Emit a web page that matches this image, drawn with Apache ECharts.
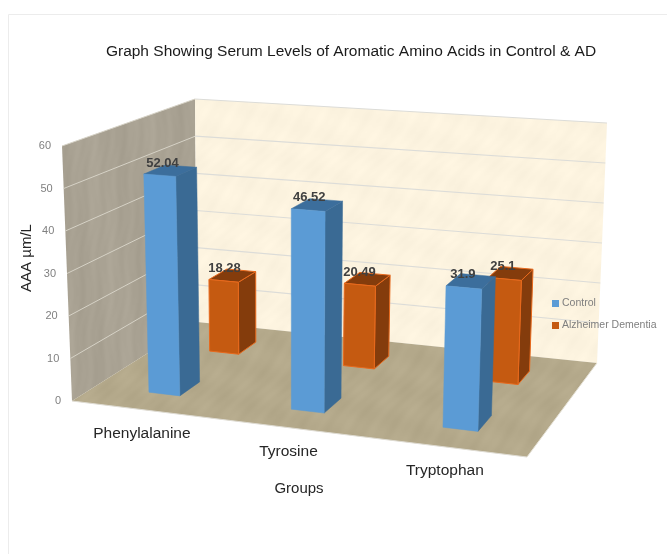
<!DOCTYPE html>
<html>
<head>
<meta charset="utf-8">
<style>
html,body{margin:0;padding:0;background:#fff}
#main{width:667px;height:554px}
</style>
<script src="https://cdn.jsdelivr.net/npm/echarts@6/dist/echarts.min.js"></script>
</head>
<body>
<div id="main"></div>
<script>
var categories = ['Phenylalanine', 'Tyrosine', 'Tryptophan'];
var controlValues = [52.04, 46.52, 31.9];
var dementiaValues = [18.28, 20.49, 25.1];
var tickLabels = [0, 10, 20, 30, 40, 50, 60];

var FONT = '"Liberation Sans", Arial, sans-serif';

// corners of the 3d box on screen: front-left, front-right, back-right, back-left
var floorQuad = [[72, 401], [527, 457], [597, 363], [197, 322]];
var topQuad = [[62, 146], [536, 179], [607, 123], [195, 99]];

// unit square -> quad
function makeHomography(q) {
    var dx1 = q[1][0] - q[2][0], dx2 = q[3][0] - q[2][0], sx = q[0][0] - q[1][0] + q[2][0] - q[3][0];
    var dy1 = q[1][1] - q[2][1], dy2 = q[3][1] - q[2][1], sy = q[0][1] - q[1][1] + q[2][1] - q[3][1];
    var den = dx1 * dy2 - dx2 * dy1;
    var g = (sx * dy2 - dx2 * sy) / den;
    var h = (dx1 * sy - sx * dy1) / den;
    var a = q[1][0] - q[0][0] + g * q[1][0], b = q[3][0] - q[0][0] + h * q[3][0], c = q[0][0];
    var d = q[1][1] - q[0][1] + g * q[1][1], e = q[3][1] - q[0][1] + h * q[3][1], f = q[0][1];
    return function (u, v) {
        var w = g * u + h * v + 1;
        return [(a * u + b * v + c) / w, (d * u + e * v + f) / w];
    };
}
var floorH = makeHomography(floorQuad);
var topH = makeHomography(topQuad);

// u along the categories, v into the depth, t share of the value axis (all 0..1)
function project(u, v, t) {
    var p0 = floorH(u, v), p1 = topH(u, v);
    return [p0[0] + (p1[0] - p0[0]) * t, p0[1] + (p1[1] - p0[1]) * t];
}

// the hidden grid gives the scales, the result is pushed through project()
function toUnit(api, params, cat, val) {
    var cs = params.coordSys;
    var p = api.coord([cat, val]);
    return [(p[0] - cs.x) / cs.width, 1 - (p[1] - cs.y) / cs.height];
}

// soft paper-like texture for the walls, plain sines so it is the same every run
function makeTexture(rgb, amp, fx, fy) {
    var size = 700;
    var c = document.createElement('canvas');
    c.width = c.height = size;
    var ctx = c.getContext('2d');
    var img = ctx.createImageData(size, size);
    for (var y = 0; y < size; y++) {
        for (var x = 0; x < size; x++) {
            var n = Math.sin((x * fx + y * fy * 0.4) * 0.21) + Math.sin((x * fx * 0.37 - y * fy) * 0.17 + 1.3)
                + 0.6 * Math.sin((x * fx * 0.9 + y * fy * 0.8) * 0.53 + Math.sin(y * 0.08) * 2);
            var i = (y * size + x) * 4;
            img.data[i] = rgb[0] + n * amp;
            img.data[i + 1] = rgb[1] + n * amp;
            img.data[i + 2] = rgb[2] + n * amp;
            img.data[i + 3] = 255;
        }
    }
    ctx.putImageData(img, 0, 0);
    return { image: c, repeat: 'repeat' };
}
var leftTexture = makeTexture([169, 162, 147], 2, 1.6, 0.1);
var backTexture = makeTexture([252, 243, 223], 1.2, 1, 1);
var floorTexture = makeTexture([180, 169, 139], 1.8, 1, 1);

function poly(points, fill, stroke) {
    return {
        type: 'polygon',
        shape: { points: points },
        style: { fill: fill, stroke: stroke || (typeof fill === 'string' ? fill : null), lineWidth: stroke ? 1 : 0.5 }
    };
}
function line(a, b, color, w) {
    return {
        type: 'line',
        shape: { x1: a[0], y1: a[1], x2: b[0], y2: b[1] },
        style: { stroke: color, lineWidth: w }
    };
}
function label(text, p, font, color, align) {
    return {
        type: 'text',
        z2: 20,
        style: { text: text, x: p[0], y: p[1], font: font, fill: color, align: align || 'center', verticalAlign: 'middle' }
    };
}

function renderWalls(params, api) {
    var kids = [];
    kids.push(poly([project(0, 0, 0), project(0, 1, 0), project(0, 1, 1), project(0, 0, 1)], leftTexture));
    kids.push(poly([project(0, 1, 0), project(1, 1, 0), project(1, 1, 1), project(0, 1, 1)], backTexture));
    kids.push(poly([project(0, 0, 0), project(1, 0, 0), project(1, 1, 0), project(0, 1, 0)], floorTexture));
    tickLabels.forEach(function (tick) {
        var t = toUnit(api, params, 0, tick)[1];
        if (tick > 0) {
            kids.push(line(project(0, 0, t), project(0, 1, t), '#d6d2c6', 1));
            kids.push(line(project(0, 1, t), project(1, 1, t), '#dcdcd8', 1.2));
        }
        var a = project(0, 0, t);
        kids.push(label(String(tick), [a[0] - 11, a[1]], '11px ' + FONT, '#808080', 'right'));
    });
    kids.push(line(project(0, 0, 0), project(1, 0, 0), '#dedbd2', 1.2));
    kids.push(line(project(1, 0, 0), project(1, 1, 0), '#e6e2d6', 1));
    categories.forEach(function (name, i) {
        var u = toUnit(api, params, i, 0)[0];
        var p = project(u, 0, 0);
        kids.push(label(name, [p[0], p[1] + 24], '15.5px ' + FONT, '#262626'));
    });
    return { type: 'group', children: kids };
}

// v0,v1 = depth slot of the series
function barRenderer(v0, v1, colors) {
    return function (params, api) {
        var cat = api.value(0), val = api.value(1);
        var base = toUnit(api, params, cat, 0);
        var t = toUnit(api, params, cat, val)[1];
        var cs = params.coordSys;
        var halfW = api.size([1, 0])[0] * 0.111 / cs.width;
        var u0 = base[0] - halfW, u1 = base[0] + halfW;
        var e = colors.edge;
        var kids = [
            poly([project(u1, v0, 0), project(u1, v1, 0), project(u1, v1, t), project(u1, v0, t)], colors.side, e),
            poly([project(u0, v0, t), project(u1, v0, t), project(u1, v1, t), project(u0, v1, t)], colors.top, e),
            poly([project(u0, v0, 0), project(u1, v0, 0), project(u1, v0, t), project(u0, v0, t)], colors.front, e)
        ];
        var mid = project(base[0], (v0 + v1) / 2, t);
        kids.push(label(String(val), [mid[0] - 8, mid[1] - 7], 'bold 13px ' + FONT, '#404040'));
        return { type: 'group', children: kids };
    };
}

var myChart = echarts.init(document.getElementById('main'));
var option = {
    animation: false,
    backgroundColor: '#fff',
    title: {
        text: 'Graph Showing Serum Levels of Aromatic Amino Acids in Control & AD',
        left: 346,
        top: 39,
        textAlign: 'center',
        textStyle: { fontFamily: FONT, fontSize: 15.5, fontWeight: 'normal', color: '#1a1a1a' }
    },
    legend: {
        orient: 'vertical',
        left: 552,
        top: 298,
        padding: 0,
        itemWidth: 7,
        itemHeight: 7,
        itemGap: 11,
        icon: 'rect',
        data: ['Control', 'Alzheimer Dementia'],
        textStyle: { fontFamily: FONT, fontSize: 10.5, color: '#7f7f7f', padding: [0, 0, 0, -2] }
    },
    graphic: [
        { type: 'line', shape: { x1: 8.5, y1: 14.5, x2: 667, y2: 14.5 }, style: { stroke: '#ececec', lineWidth: 1 } },
        { type: 'line', shape: { x1: 8.5, y1: 14.5, x2: 8.5, y2: 554 }, style: { stroke: '#ececec', lineWidth: 1 } },
        {
            type: 'text', x: 27, y: 258, rotation: Math.PI / 2,
            style: { text: 'AAA µm/L', font: '15px ' + FONT, fill: '#262626', align: 'center', verticalAlign: 'middle' }
        },
        {
            type: 'text', x: 299, y: 489,
            style: { text: 'Groups', font: '15px ' + FONT, fill: '#262626', align: 'center', verticalAlign: 'middle' }
        }
    ],
    // scales only, the box is drawn by the custom series
    grid: { left: 0, top: 0, width: 300, height: 300 },
    xAxis: { type: 'category', data: categories, show: false },
    yAxis: { type: 'value', min: 0, max: 60, interval: 10, show: false },
    series: [
        {
            name: 'walls',
            type: 'custom',
            silent: true,
            z: 1,
            renderItem: renderWalls,
            data: [[0, 0]]
        },
        {
            name: 'Alzheimer Dementia',
            type: 'custom',
            z: 2,
            itemStyle: { color: '#c55a11' },
            renderItem: barRenderer(0.67, 0.83, { front: '#c55a11', side: '#843c0c', top: '#843c0c', edge: '#e8691c' }),
            encode: { x: 0, y: 1 },
            data: dementiaValues.map(function (v, i) { return [i, v]; })
        },
        {
            name: 'Control',
            type: 'custom',
            z: 3,
            itemStyle: { color: '#5b9bd5' },
            renderItem: barRenderer(0.17, 0.33, { front: '#5b9bd5', side: '#3a6a94', top: '#3c6e9c' }),
            encode: { x: 0, y: 1 },
            data: controlValues.map(function (v, i) { return [i, v]; })
        }
    ]
};
myChart.setOption(option);
</script>
</body>
</html>
